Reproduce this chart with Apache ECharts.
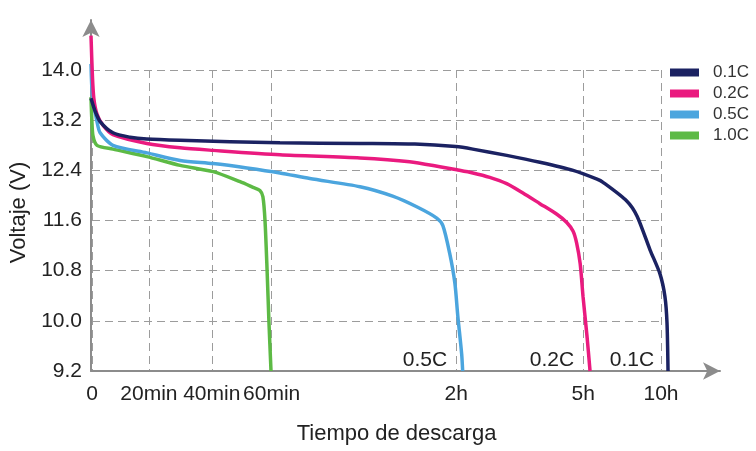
<!DOCTYPE html>
<html><head><meta charset="utf-8">
<script src="https://cdn.jsdelivr.net/npm/echarts@6/dist/echarts.min.js"></script>
<style>html,body{margin:0;padding:0;background:#fff}#c{width:756px;height:451px}</style>
</head><body><div id="c"></div>
<script>
// ---- data ----
const seriesNames = ['0.1C', '0.2C', '0.5C', '1.0C'];
const seriesColors = ['#1b2262', '#ea1a7f', '#4ba5de', '#5dba45'];
// x axis: non-linear time axis; tick times (minutes), their labels and relative axis positions
const xTickMinutes = [0, 20, 40, 60, 120, 300, 600];
const xTickLabels = ['0', '20min', '40min', '60min', '2h', '5h', '10h'];
const xTickPos = [0, 0.95, 2, 3, 6.08, 8.2, 9.5];
const yTicks = [9.2, 10.0, 10.8, 11.6, 12.4, 13.2, 14.0];

// [minutes, volts]
const c01 = [[0,13.55],[1.4,13.35],[3.2,13.18],[7.7,13.0],[13.7,12.93],[19.6,12.9],[30.2,12.88],[62.9,12.84],[88.9,12.83],[106.7,12.82],[120,12.78],[144,12.74],[192,12.64],[239,12.53],[286,12.40],[354,12.26],[377,12.21],[469,11.91],[508,11.67],[558,11.13],[596,10.75],[615,10.39],[623,9.97],[627,9.2]];
const c02 = [[0,14.55],[0.5,13.9],[1,13.55],[2.1,13.3],[4.2,13.12],[7.7,12.97],[19.6,12.83],[30.2,12.76],[40.7,12.72],[62.9,12.65],[88.9,12.6],[105,12.54],[114.8,12.46],[121.4,12.41],[144,12.36],[168,12.29],[192,12.19],[215,12.04],[239,11.87],[263,11.70],[277,11.57],[286,11.43],[291,11.24],[296,10.91],[300,10.39],[315,9.77],[327,9.2]];
const c05 = [[0,14.1],[0.5,13.6],[2.1,13.18],[3.2,13.0],[7.7,12.8],[19.6,12.68],[30.2,12.56],[40.7,12.51],[52,12.44],[62.9,12.36],[72.6,12.27],[88.9,12.14],[99.5,11.99],[107.3,11.82],[113.8,11.64],[115.8,11.52],[118,11.08],[119.7,10.6],[122.8,10.08],[128.3,9.47],[129.7,9.2]];
const c10 = [[0,13.57],[0.3,13.2],[0.7,12.95],[2.1,12.8],[7.7,12.74],[19.6,12.62],[30.2,12.48],[40.7,12.38],[49.7,12.22],[54,12.13],[56.3,12.08],[57.3,11.98],[58,11.6],[58.7,10.8],[59.3,10.0],[60,9.2]];
const curves = [c01, c02, c05, c10];
// curve end labels: [minutes, volts]
const endLabelAt = [[488, 9.38], [256, 9.38], [110, 9.38], null];

// piecewise-linear time scale (minutes -> axis position)
function toPos(m) {
  const n = xTickMinutes.length;
  for (let i = 1; i < n; i++) {
    if (m <= xTickMinutes[i] || i === n - 1) {
      const m0 = xTickMinutes[i-1], m1 = xTickMinutes[i], p0 = xTickPos[i-1], p1 = xTickPos[i];
      return p0 + (m - m0) / (m1 - m0) * (p1 - p0);
    }
  }
}

const FONT = "'Liberation Sans', Arial, sans-serif";
const TXT = '#222';
const AX = '#8c8c8c';
const gridLine = { show: true, lineStyle: { color: '#9c9c9c', type: [8, 5], width: 1 } };

const chart = echarts.init(document.getElementById('c'));
chart.setOption({
  animation: false,
  backgroundColor: '#fff',
  textStyle: { fontFamily: FONT },
  grid: [
    { left: 91, right: 36, top: 20, bottom: 80 },
    { left: 91, right: 95, top: 70, bottom: 80 }
  ],
  legend: {
    data: seriesNames, orient: 'vertical', left: 665, top: 59,
    icon: 'rect', itemWidth: 29, itemHeight: 8, itemGap: 4,
    textStyle: { fontSize: 17, color: '#333', fontFamily: FONT, padding: [0, 0, 0, 9] }
  },
  xAxis: [
    { gridIndex: 0, type: 'value', min: 0, max: 10.483,
      axisLine: { show: true, lineStyle: { color: AX, width: 2 }, symbol: ['none', 'arrow'], symbolSize: [13, 17] },
      axisTick: { show: false }, axisLabel: { show: false }, splitLine: { show: false } },
    { gridIndex: 1, type: 'value', min: 0, max: 9.5,
      axisLine: { show: false },
      axisTick: { show: false, customValues: xTickPos },
      axisLabel: { customValues: xTickPos, margin: 13, fontSize: 21, color: TXT, fontFamily: FONT,
        formatter: v => { const i = xTickPos.findIndex(p => Math.abs(p - v) < 1e-6); return i >= 0 ? xTickLabels[i] : ''; } },
      splitLine: gridLine,
      name: 'Tiempo de descarga', nameLocation: 'middle', nameGap: 52,
      nameTextStyle: { fontSize: 22, color: TXT, fontFamily: FONT, padding: [0, 0, 0, 40] } }
  ],
  yAxis: [
    { gridIndex: 0, type: 'value', min: 9.2, max: 14.8,
      axisLine: { show: true, lineStyle: { color: AX, width: 2 }, symbol: ['none', 'arrow'], symbolSize: [13, 17] },
      axisTick: { show: false }, axisLabel: { show: false }, splitLine: { show: false } },
    { gridIndex: 1, type: 'value', min: 9.2, max: 14.0,
      axisLine: { show: false },
      axisTick: { show: false, customValues: yTicks },
      axisLabel: { customValues: yTicks, margin: 10, fontSize: 21, color: TXT, fontFamily: FONT, formatter: v => v.toFixed(1) },
      splitLine: gridLine,
      name: 'Voltaje (V)', nameLocation: 'middle', nameGap: 62,
      nameTextStyle: { fontSize: 22, color: TXT, fontFamily: FONT, padding: [0, 0, 0, 16] } }
  ],
  series: curves.map((c, k) => ({
    name: seriesNames[k], type: 'line', xAxisIndex: 0, yAxisIndex: 0,
    data: c.map(p => [toPos(p[0]), p[1]]),
    showSymbol: false, smooth: 0.25,
    lineStyle: { width: 3.5, color: seriesColors[k] }, itemStyle: { color: seriesColors[k] },
    z: 10 - k,
    markPoint: endLabelAt[k] ? {
      symbol: 'circle', symbolSize: 0, silent: true,
      label: { show: true, position: 'inside', formatter: seriesNames[k], fontSize: 21, color: TXT, fontFamily: FONT },
      data: [{ coord: [toPos(endLabelAt[k][0]), endLabelAt[k][1]] }]
    } : undefined
  }))
});
</script></body></html>
